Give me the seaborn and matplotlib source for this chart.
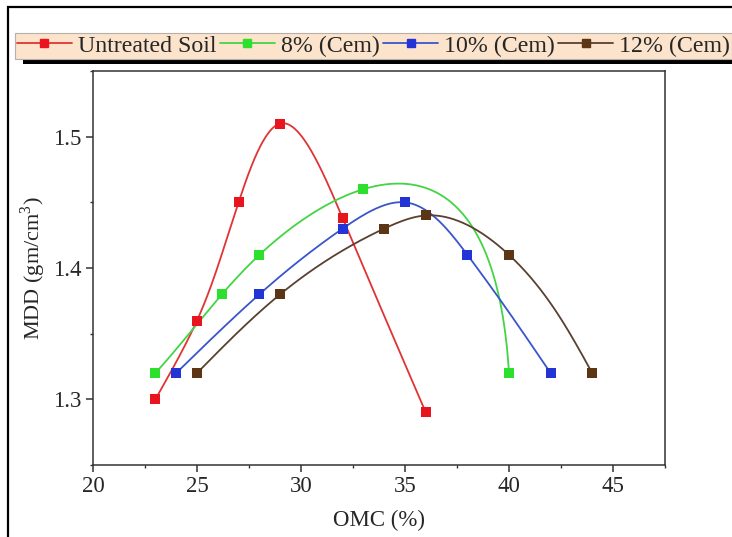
import numpy as np
import pandas as pd
import matplotlib
matplotlib.use("Agg")
import matplotlib.pyplot as plt
import seaborn as sns
from matplotlib.lines import Line2D
from matplotlib.patches import Rectangle
from matplotlib.ticker import MultipleLocator

# Data: OMC (%) vs MDD (gm/cm3)
untreated_omc = [23, 25, 27, 29, 32, 36]
untreated_mdd = [1.30, 1.36, 1.45, 1.51, 1.438, 1.29]

cem8_omc = [23, 26.2, 28, 33, 40]
cem8_mdd = [1.32, 1.38, 1.41, 1.46, 1.32]

cem10_omc = [24, 28, 32, 35, 38, 42]
cem10_mdd = [1.32, 1.38, 1.43, 1.45, 1.41, 1.32]

cem12_omc = [25, 29, 34, 36, 40, 44]
cem12_mdd = [1.32, 1.38, 1.43, 1.44, 1.41, 1.32]

labels = ["Untreated Soil", "8% (Cem)", "10% (Cem)", "12% (Cem)"]
colors = ["#e8141e", "#2ee02e", "#2234d6", "#5c3514"]
line_colors = ["#e03434", "#44d444", "#3a55cc", "#5a4030"]
spline_ends = ["natural", "not-a-knot", "natural", "natural"]


def cubic_spline(t, v, ts, ends="natural"):
    t = np.asarray(t, float)
    v = np.asarray(v, float)
    h = np.diff(t)
    k = len(t)
    A = np.zeros((k, k))
    b = np.zeros(k)
    if ends == "not-a-knot":
        A[0, 0], A[0, 1], A[0, 2] = h[1], -(h[0] + h[1]), h[0]
        A[-1, -3], A[-1, -2], A[-1, -1] = h[-1], -(h[-2] + h[-1]), h[-2]
    else:
        A[0, 0] = A[-1, -1] = 1
    for i in range(1, k - 1):
        A[i, i - 1] = h[i - 1]
        A[i, i] = 2 * (h[i - 1] + h[i])
        A[i, i + 1] = h[i]
        b[i] = 6 * ((v[i + 1] - v[i]) / h[i] - (v[i] - v[i - 1]) / h[i - 1])
    M = np.linalg.solve(A, b)
    idx = np.clip(np.searchsorted(t, ts) - 1, 0, k - 2)
    t0, t1 = t[idx], t[idx + 1]
    hh = t1 - t0
    a0 = t1 - ts
    a1 = ts - t0
    return (M[idx] * a0 ** 3 / (6 * hh) + M[idx + 1] * a1 ** 3 / (6 * hh)
            + (v[idx] / hh - M[idx] * hh / 6) * a0
            + (v[idx + 1] / hh - M[idx + 1] * hh / 6) * a1)


def spline_connect(x, y, ends, sx=20.8, sy=1313.0, n=400):
    # parametric spline through the points (chord length in screen units)
    px = np.asarray(x, float) * sx
    py = np.asarray(y, float) * sy
    t = np.concatenate([[0], np.cumsum(np.hypot(np.diff(px), np.diff(py)))])
    ts = np.linspace(0, t[-1], n)
    return (cubic_spline(t, px, ts, ends) / sx,
            cubic_spline(t, py, ts, ends) / sy)


sns.set_style("ticks")
plt.rcParams["font.family"] = ["Liberation Serif", "DejaVu Serif"]
plt.rcParams["mathtext.fontset"] = "custom"
plt.rcParams["mathtext.rm"] = "Liberation Serif"

fig = plt.figure(figsize=(7.32, 5.37), dpi=100)
ax = fig.add_axes([93 / 732, 1 - 465 / 537, (665 - 93) / 732, (465 - 71) / 537])

series = [(untreated_omc, untreated_mdd), (cem8_omc, cem8_mdd),
          (cem10_omc, cem10_mdd), (cem12_omc, cem12_mdd)]

for (xv, yv), c, lc, ends in zip(series, colors, line_colors, spline_ends):
    xs, ys = spline_connect(xv, yv, ends)
    sns.lineplot(x=xs, y=ys, color=lc, linewidth=1.3, sort=False,
                 estimator=None, ax=ax)
    df = pd.DataFrame({"OMC": xv, "MDD": yv})
    sns.scatterplot(data=df, x="OMC", y="MDD", color=c, marker="s", s=42,
                    linewidth=0, zorder=3, ax=ax)

ax.set_xlim(20, 47.5)
ax.set_ylim(1.25, 1.55)
ax.xaxis.set_major_locator(MultipleLocator(5))
ax.xaxis.set_minor_locator(MultipleLocator(2.5))
ax.yaxis.set_major_locator(MultipleLocator(0.1))
ax.yaxis.set_minor_locator(MultipleLocator(0.05))
ax.tick_params(which="major", direction="out", length=5, width=1.1,
               labelsize=16.5, color="#333333", pad=3)
ax.tick_params(which="minor", direction="out", length=2.5, width=1.0,
               color="#333333")
for sp in ax.spines.values():
    sp.set_visible(True)
    sp.set_linewidth(1.1)
    sp.set_color("#333333")

ax.set_xlabel("OMC (%)", fontsize=16.5, labelpad=9)
ax.set_ylabel(r"MDD (gm/cm$^{3}$)", fontsize=16, labelpad=4)

handles = [Line2D([], [], color=lc, marker="s", markersize=6,
                  markerfacecolor=c, markeredgecolor=c, linewidth=1.3)
           for c, lc in zip(colors, line_colors)]
leg = fig.legend(handles, labels, loc="upper left",
                 bbox_to_anchor=(15 / 732, 1 - 33 / 537), ncol=4,
                 fontsize=17.2, frameon=True, fancybox=False,
                 handlelength=2.3, handletextpad=0.25, columnspacing=0.15,
                 borderpad=0.08, borderaxespad=0)
leg.get_frame().set_facecolor("#fbe3cc")
leg.get_frame().set_edgecolor("#b8b0a8")
leg.get_frame().set_linewidth(0.8)
leg.get_frame().set_alpha(1)
leg.set_zorder(6)

# black drop shadow under the legend
fig.canvas.draw()
bb = leg.get_window_extent()
inv = fig.transFigure.inverted()
(sx0, sy0) = inv.transform((bb.x0 + 8, bb.y0 - 5))
(sx1, sy1) = inv.transform((bb.x1 + 8, bb.y1 - 5))
fig.add_artist(Rectangle((sx0, sy0), sx1 - sx0, sy1 - sy0,
                         transform=fig.transFigure, facecolor="black",
                         edgecolor="none", zorder=5))

# outer frame of the figure (cut at right and bottom)
fig.add_artist(Rectangle((8 / 732, -0.2), 1.2, 1 - 7 / 537 + 0.2,
                         transform=fig.transFigure, fill=False,
                         edgecolor="black", linewidth=1.6, zorder=10))

fig.savefig("out.png", dpi=100)
